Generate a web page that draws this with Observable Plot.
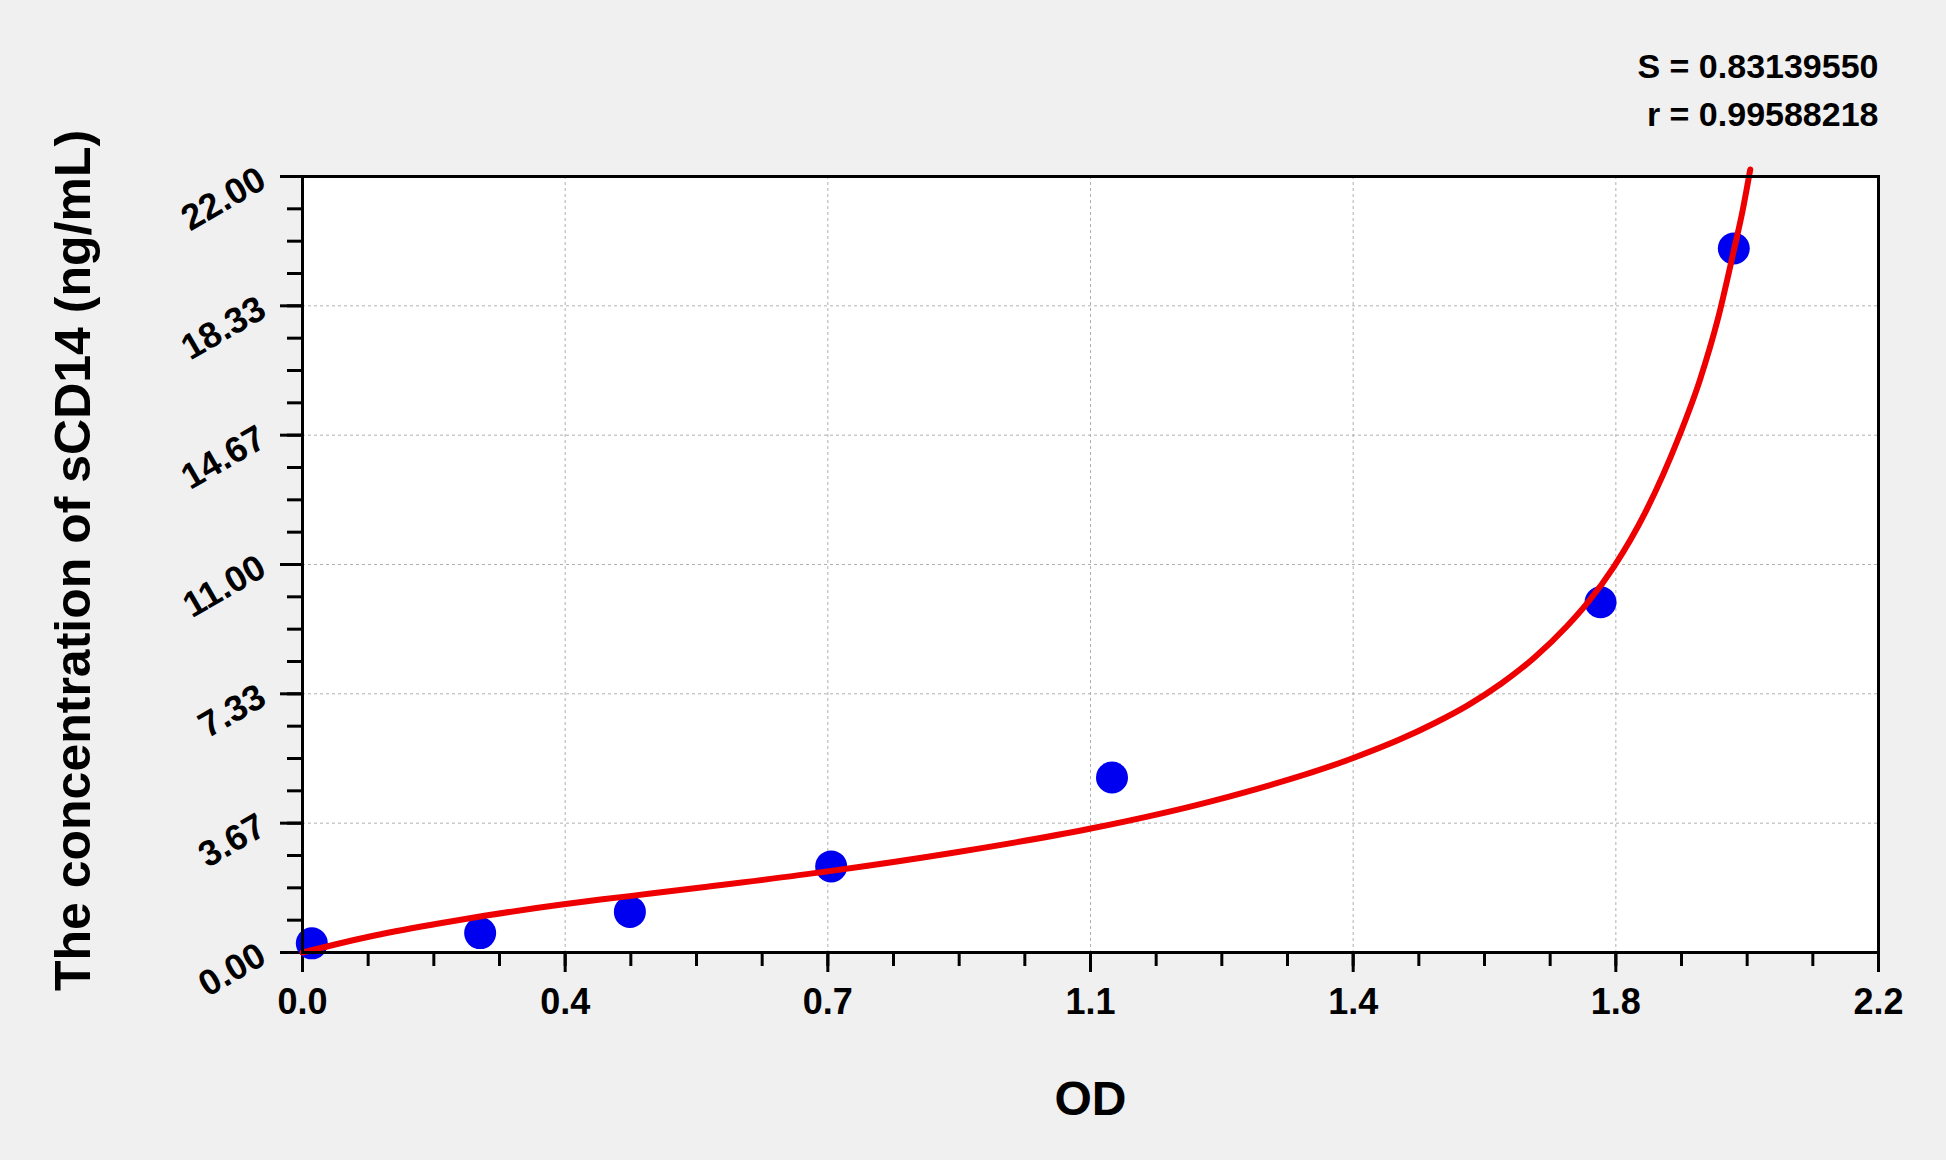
<!DOCTYPE html>
<html>
<head>
<meta charset="utf-8">
<script src="https://cdn.jsdelivr.net/npm/d3@7"></script>
<script src="https://cdn.jsdelivr.net/npm/@observablehq/plot@0.6"></script>
<style>
  html, body { margin: 0; padding: 0; background: #f0f0f0; }
  #chart { width: 1946px; height: 1160px; }
</style>
</head>
<body>
<div id="chart"></div>
<script>
// Standard points (OD vs concentration)
const pointOD   = [0.013, 0.248, 0.457, 0.738, 1.130, 1.812, 1.998];
const pointConc = [0.26, 0.55, 1.15, 2.44, 4.96, 9.93, 19.96];

// Fitted curve
const curveOD   = [0, 0.044, 0.091, 0.184, 0.254, 0.362, 0.416, 0.486, 0.559, 0.733, 0.915, 1.097, 1.271, 1.465, 1.533, 1.580, 1.626, 1.673, 1.719, 1.765, 1.794, 1.831, 1.875, 1.921, 1.951, 1.975, 1.998, 2.010, 2.021];
const curveConc = [0, 0.22, 0.44, 0.80, 1.04, 1.36, 1.50, 1.67, 1.85, 2.30, 2.85, 3.50, 4.30, 5.50, 6.05, 6.50, 7.00, 7.62, 8.35, 9.25, 9.92, 10.95, 12.50, 14.60, 16.25, 17.90, 19.90, 21.00, 22.20];

// Axes
const xTicks = [0, 0.36667, 0.73333, 1.1, 1.46667, 1.83333, 2.2];
const xTickLabels = ["0.0", "0.4", "0.7", "1.1", "1.4", "1.8", "2.2"];
const yTicks = [0, 3.66667, 7.33333, 11, 14.66667, 18.33333, 22];
const yTickLabels = ["0.00", "3.67", "7.33", "11.00", "14.67", "18.33", "22.00"];
const xMinor = d3.range(0, 25).map(i => i * 2.2 / 24);
const yMinor = d3.range(0, 25).map(i => i * 22 / 24);

const xTitle = "OD";
const yTitle = "The concentration of sCD14 (ng/mL)";
const statS = "S = 0.83139550";
const statR = "r = 0.99588218";

const points = pointOD.map((x, i) => ({x, y: pointConc[i]}));
const curve = curveOD.map((x, i) => ({x, y: curveConc[i]}));

const bold = {fontWeight: "bold"};

const chart = Plot.plot({
  width: 1946,
  height: 1160,
  marginLeft: 302,
  marginRight: 68,
  marginTop: 176,
  marginBottom: 208,
  x: {domain: [0, 2.2]},
  y: {domain: [0, 22]},
  style: {background: "transparent", color: "black", fontFamily: "'Liberation Sans', Arial, sans-serif", overflow: "visible"},
  marks: [
    Plot.frame({fill: "white", stroke: null}),
    Plot.gridX(xTicks.slice(1, -1), {stroke: "#b0b0b0", strokeOpacity: 1, strokeDasharray: "3,3", strokeWidth: 1}),
    Plot.gridY(yTicks.slice(1, -1), {stroke: "#b0b0b0", strokeOpacity: 1, strokeDasharray: "3,3", strokeWidth: 1}),
    Plot.axisX(xMinor, {tickSize: 14, strokeWidth: 3, tickFormat: () => "", label: null}),
    Plot.axisX(xTicks, {tickSize: 20, strokeWidth: 3, tickFormat: () => "", label: null}),
    Plot.axisX(xTicks, {tickSize: 0, tickPadding: 36, tickFormat: d => xTickLabels[xTicks.indexOf(d)], fontSize: 36, ...bold, label: null}),
    Plot.axisY(yMinor, {tickSize: 15, strokeWidth: 3, tickFormat: () => "", label: null}),
    Plot.axisY(yTicks, {tickSize: 22, strokeWidth: 3, tickFormat: () => "", label: null}),
    Plot.axisY(yTicks, {tickSize: 0, tickPadding: 40, tickRotate: -30, tickFormat: d => yTickLabels[yTicks.indexOf(d)], fontSize: 36, ...bold, label: null}),
    Plot.dot(points, {x: "x", y: "y", r: 16, fill: "#0000f0", stroke: null}),
    Plot.line(curve, {x: "x", y: "y", stroke: "#ee0000", strokeWidth: 6, curve: "monotone-x"}),
    Plot.frame({stroke: "black", strokeWidth: 3}),
    Plot.text([yTitle], {text: d => d, frameAnchor: "left", textAnchor: "middle", lineAnchor: "middle", dx: -229, dy: -4, rotate: -90, fontSize: 50, ...bold}),
    Plot.text([xTitle], {text: d => d, frameAnchor: "bottom", textAnchor: "middle", dy: 162, fontSize: 48, ...bold}),
    Plot.text([statS], {text: d => d, frameAnchor: "top-right", textAnchor: "end", lineAnchor: "bottom", dy: -99, fontSize: 34, ...bold}),
    Plot.text([statR], {text: d => d, frameAnchor: "top-right", textAnchor: "end", lineAnchor: "bottom", dy: -51, fontSize: 34, ...bold})
  ]
});
document.getElementById("chart").appendChild(chart);
</script>
</body>
</html>
